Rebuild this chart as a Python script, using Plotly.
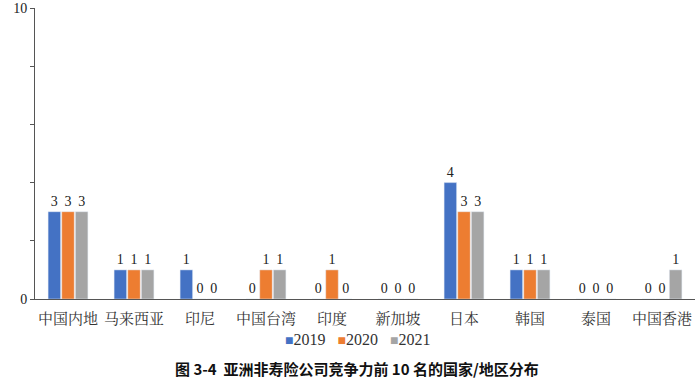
import plotly.graph_objects as go

categories = ["中国内地", "马来西亚", "印尼", "中国台湾", "印度", "新加坡", "日本", "韩国", "泰国", "中国香港"]
s2019 = [3, 1, 1, 0, 0, 0, 4, 1, 0, 0]
s2020 = [3, 1, 0, 1, 1, 0, 3, 1, 0, 0]
s2021 = [3, 1, 0, 1, 0, 0, 3, 1, 0, 1]
series = [("2019", s2019, "#4472C4"), ("2020", s2020, "#ED7D31"), ("2021", s2021, "#A5A5A5")]
ytick_vals = [0, 2, 4, 6, 8, 10]
ytick_text = ["0", "", "", "", "", "10"]

serif = "Liberation Serif, Noto Serif CJK SC, Noto Sans CJK SC, serif"

fig = go.Figure()
for name, vals, color in series:
    fig.add_trace(go.Bar(
        name=name, x=categories, y=vals, marker_color=color,
        text=[str(v) for v in vals], textposition="outside",
        textfont=dict(family=serif, size=14, color="#222"),
        cliponaxis=False, showlegend=False,
    ))

legend_text = "&nbsp;&nbsp;&nbsp;".join(
    f"<span style='color:{c};font-size:14px'>■</span>{n}" for n, _, c in series
)

fig.update_layout(
    width=700, height=383,
    margin=dict(l=35, r=5, t=8, b=84, autoexpand=False),
    paper_bgcolor="white", plot_bgcolor="white",
    barmode="group", bargap=0.38, bargroupgap=0.08,
    font=dict(family=serif, size=14, color="#222"),
    annotations=[
        dict(text=legend_text, x=0.5 - 8 / 660, xref="paper", y=-40 / 291, yref="paper",
             yanchor="middle", showarrow=False,
             font=dict(family=serif, size=16, color="#333")),
        dict(text="<b>图 3-4  亚洲非寿险公司竞争力前 10 名的国家/地区分布</b>",
             x=0.5 - 8 / 660, xref="paper", y=-69 / 291, yref="paper", yanchor="middle",
             showarrow=False, font=dict(family="Noto Sans CJK SC", size=15, color="#111")),
    ],
)
fig.update_xaxes(showline=True, linecolor="#555", linewidth=1, ticks="", automargin=False,
                 ticklabelstandoff=6,
                 tickfont=dict(family=serif, size=15, color="#333"), showgrid=False)
fig.update_yaxes(range=[0, 10], tickvals=ytick_vals, ticktext=ytick_text, automargin=False,
                 showline=True, linecolor="#555", linewidth=1, ticks="outside",
                 ticklen=4, tickcolor="#555", showgrid=False, zeroline=False,
                 tickfont=dict(family=serif, size=14, color="#222"))

fig.write_html("out.html", config={"displayModeBar": False},
               post_script="document.body.style.margin='0';")
